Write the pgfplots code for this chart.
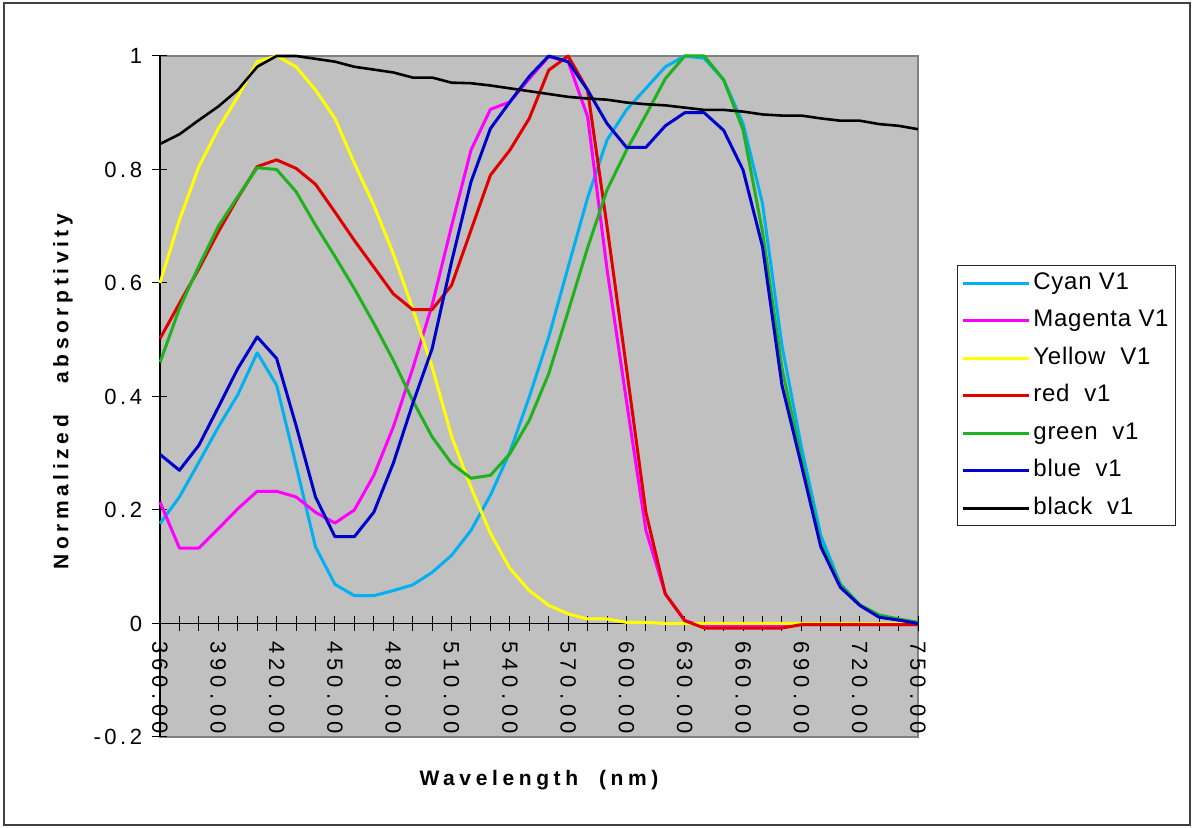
\documentclass[border=0pt]{standalone}
\usepackage{fontspec}
\setmainfont{Liberation Sans}
\usepackage{pgfplots}
\pgfplotsset{compat=1.18}
\usepackage{pgfplotstable}
\newfontfamily\yfont[LetterSpace=16]{Liberation Sans}
\newfontfamily\xfont[LetterSpace=23]{Liberation Sans}
\newfontfamily\tfont[LetterSpace=22]{Liberation Sans}
\newfontfamily\lfont[LetterSpace=3]{Liberation Sans}
\definecolor{bg}{RGB}{192,192,192}
\definecolor{ccyan}{RGB}{0,176,240}
\definecolor{cmag}{RGB}{255,0,255}
\definecolor{cyel}{RGB}{255,255,0}
\definecolor{cred}{RGB}{224,0,0}
\definecolor{cgreen}{RGB}{30,178,30}
\definecolor{cblue}{RGB}{0,0,204}

\pgfplotstableread{
lam  c      m      y      r      g      b      k
360 0.176 0.214 0.600 0.502 0.460 0.298 0.845
370 0.223 0.133 0.711 0.564 0.555 0.270 0.862
380 0.284 0.133 0.805 0.625 0.630 0.314 0.887
390 0.346 0.167 0.872 0.690 0.700 0.381 0.911
400 0.403 0.202 0.928 0.750 0.752 0.449 0.940
410 0.477 0.233 0.990 0.805 0.803 0.505 0.981
420 0.420 0.233 1.000 0.817 0.800 0.467 1.000
430 0.279 0.223 0.981 0.802 0.761 0.349 1.000
440 0.135 0.196 0.940 0.774 0.702 0.223 0.995
450 0.069 0.177 0.890 0.725 0.647 0.153 0.990
460 0.049 0.200 0.811 0.675 0.590 0.153 0.981
470 0.049 0.261 0.737 0.628 0.529 0.196 0.976
480 0.058 0.346 0.652 0.581 0.464 0.282 0.971
490 0.068 0.449 0.555 0.553 0.393 0.387 0.962
500 0.090 0.561 0.452 0.553 0.329 0.484 0.962
510 0.120 0.700 0.330 0.596 0.282 0.637 0.953
520 0.164 0.834 0.240 0.693 0.256 0.778 0.952
530 0.226 0.906 0.159 0.790 0.261 0.872 0.948
540 0.302 0.919 0.097 0.834 0.299 0.919 0.943
550 0.399 0.960 0.058 0.890 0.358 0.964 0.938
560 0.505 0.999 0.032 0.975 0.440 1.000 0.933
570 0.628 0.990 0.017 1.000 0.550 0.990 0.928
580 0.750 0.893 0.008 0.940 0.662 0.940 0.925
590 0.852 0.624 0.008 0.700 0.764 0.881 0.923
600 0.905 0.392 0.002 0.450 0.834 0.839 0.918
610 0.943 0.164 0.002 0.196 0.896 0.839 0.915
620 0.981 0.052 0.000 0.052 0.960 0.877 0.913
630 1.000 0.005 0.000 0.005 1.000 0.900 0.909
640 0.996 -0.005 0.000 -0.008 1.000 0.900 0.905
650 0.958 -0.005 0.000 -0.008 0.958 0.869 0.905
660 0.881 -0.005 0.000 -0.008 0.870 0.799 0.902
670 0.740 -0.005 0.000 -0.008 0.690 0.664 0.897
680 0.490 -0.005 0.000 -0.008 0.450 0.420 0.895
690 0.311 -0.002 0.000 -0.002 0.290 0.279 0.895
700 0.155 -0.002 0.000 -0.002 0.140 0.135 0.890
710 0.070 -0.002 0.000 -0.002 0.068 0.064 0.886
720 0.033 -0.002 0.000 -0.002 0.033 0.032 0.886
730 0.013 -0.002 0.000 -0.002 0.015 0.011 0.880
740 0.006 -0.002 0.000 -0.002 0.008 0.006 0.877
750 0.000 -0.002 0.000 -0.002 0.002 0.000 0.871
}\data

\begin{document}
\begin{tikzpicture}[x=0.5pt,y=0.5pt]
\useasboundingbox (0,0) rectangle (1194,828);
\fill[white] (0,0) rectangle (1194,828);
\draw[black!75, line width=0.6pt] (4,3) rectangle (1190,825);
\begin{axis}[
  at={(80pt,45.5pt)}, anchor=south west,
  scale only axis, width=379pt, height=340.5pt,
  xmin=360, xmax=750, ymin=-0.2, ymax=1,
  axis y line=left, axis x line=middle,
  axis line style={-, black, line width=0.6pt},
  axis background/.style={fill=bg, draw=gray, line width=0.9pt},
  clip=false,
  hide obscured x ticks=false, hide obscured y ticks=false,
  xtick={360,390,...,750},
  minor xtick={370,380,...,740},
  xticklabels={360.00,390.00,420.00,450.00,480.00,510.00,540.00,570.00,600.00,630.00,660.00,690.00,720.00,750.00},
  xticklabel style={anchor=west, rotate=-90, inner sep=0pt, font=\xfont\fontsize{11}{13}\selectfont},
  xticklabel shift=5pt,
  ytick={-0.2,0,0.2,0.4,0.6,0.8,1},
  yticklabels={{-0.2},{0},{0.2},{0.4},{0.6},{0.8},{1}},
  yticklabel style={anchor=east, inner sep=0pt, font=\yfont\fontsize{11}{13}\selectfont},
  yticklabel shift=5pt,
  tick align=center,
  major tick length=7.5pt, minor tick length=7.5pt,
  tick style={black, line width=0.5pt},
  every axis x label/.style={at={(rel axis cs:0.5,-0.063)}, anchor=center, font=\tfont\bfseries\fontsize{10.5}{12}\selectfont},
  every axis y label/.style={at={(rel axis cs:-0.128,0.507)}, anchor=center, rotate=90, font=\tfont\bfseries\fontsize{10.5}{12}\selectfont},
  xlabel={Wavelength\ \ (nm)},
  ylabel={Normalized\ \ \ absorptivity},
  legend style={at={(rel axis cs:1.0515,0.693)}, anchor=north west, draw=black!85, fill=white,
    font=\lfont\fontsize{12}{14}\selectfont, inner xsep=2pt, inner ysep=1.8pt, row sep=4.65pt, column sep=0pt,
    nodes={inner sep=1.5pt, text height=8.6pt, text depth=2.5pt}},
  legend cell align=left,
  legend image code/.code={\draw[#1, line width=1.5pt] (0pt,0pt) -- (33pt,0pt);},
  every axis plot/.append style={line width=1.5pt, line join=round},
]
\addplot[ccyan] table[x=lam,y=c]{\data};
\addlegendentry{Cyan V1}
\addplot[cmag] table[x=lam,y=m]{\data};
\addlegendentry{Magenta V1}
\addplot[cyel] table[x=lam,y=y]{\data};
\addlegendentry{Yellow\ \ V1}
\addplot[cred] table[x=lam,y=r]{\data};
\addlegendentry{red\ \ v1}
\addplot[cgreen] table[x=lam,y=g]{\data};
\addlegendentry{green\ \ v1}
\addplot[cblue] table[x=lam,y=b]{\data};
\addlegendentry{blue\ \ v1}
\addplot[black, line width=1.3pt] table[x=lam,y=k]{\data};
\addlegendentry{black\ \ v1}
\end{axis}
\end{tikzpicture}
\end{document}
